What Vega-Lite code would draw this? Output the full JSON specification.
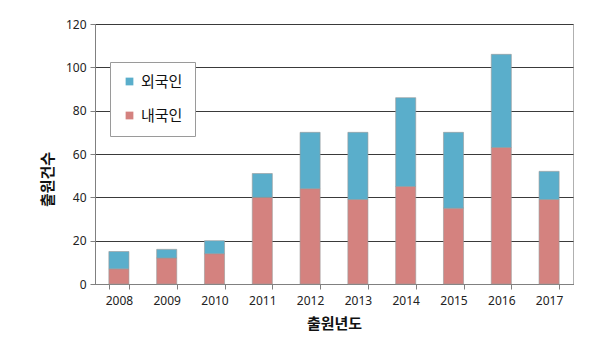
{
  "$schema": "https://vega.github.io/schema/vega-lite/v6.json",
  "autosize": {"type": "none"},
  "padding": {"left": 95, "top": 24, "right": 27, "bottom": 70},
  "width": 478,
  "height": 260,
  "background": "white",
  "data": {
    "values": [
      {"year": "2008", "group": "내국인", "count": 7},
      {"year": "2008", "group": "외국인", "count": 8},
      {"year": "2009", "group": "내국인", "count": 12},
      {"year": "2009", "group": "외국인", "count": 4},
      {"year": "2010", "group": "내국인", "count": 14},
      {"year": "2010", "group": "외국인", "count": 6},
      {"year": "2011", "group": "내국인", "count": 40},
      {"year": "2011", "group": "외국인", "count": 11},
      {"year": "2012", "group": "내국인", "count": 44},
      {"year": "2012", "group": "외국인", "count": 26},
      {"year": "2013", "group": "내국인", "count": 39},
      {"year": "2013", "group": "외국인", "count": 31},
      {"year": "2014", "group": "내국인", "count": 45},
      {"year": "2014", "group": "외국인", "count": 41},
      {"year": "2015", "group": "내국인", "count": 35},
      {"year": "2015", "group": "외국인", "count": 35},
      {"year": "2016", "group": "내국인", "count": 63},
      {"year": "2016", "group": "외국인", "count": 43},
      {"year": "2017", "group": "내국인", "count": 39},
      {"year": "2017", "group": "외국인", "count": 13}
    ]
  },
  "mark": {"type": "bar", "strokeWidth": 1, "stroke": "#9a9a9a", "strokeOpacity": 0.6},
  "encoding": {
    "x": {
      "field": "year",
      "type": "ordinal",
      "scale": {"paddingInner": 0.58, "paddingOuter": 0.29},
      "axis": {
        "title": "출원년도",
        "labelAngle": 0,
        "tickBand": "extent",
        "tickSize": 5,
        "tickColor": "#808080",
        "domainColor": "#808080",
        "labelPadding": 6,
        "labelFontSize": 12,
        "labelFont": "Noto Sans",
        "labelColor": "#222",
        "titleFont": "Noto Sans CJK KR",
        "titleFontSize": 15,
        "titleFontWeight": "bold",
        "titleColor": "#111",
        "titlePadding": 10
      }
    },
    "y": {
      "field": "count",
      "type": "quantitative",
      "stack": "zero",
      "scale": {"domain": [0, 120], "nice": false},
      "axis": {
        "title": "출원건수",
        "values": [0, 20, 40, 60, 80, 100, 120],
        "grid": true,
        "gridColor": "#3a3a3a",
        "gridWidth": 1,
        "tickSize": 5,
        "tickColor": "#808080",
        "domainColor": "#808080",
        "labelPadding": 4,
        "labelFontSize": 12,
        "labelFont": "Noto Sans",
        "labelColor": "#222",
        "titleFont": "Noto Sans CJK KR",
        "titleFontSize": 15,
        "titleFontWeight": "bold",
        "titleColor": "#111",
        "titlePadding": 10,
        "titleY": 155
      }
    },
    "color": {
      "field": "group",
      "type": "nominal",
      "scale": {"domain": ["외국인", "내국인"], "range": ["#5aaecb", "#d4827f"]},
      "legend": {
        "title": null,
        "orient": "none",
        "legendX": 15,
        "legendY": 38,
        "symbolType": "square",
        "symbolSize": 60,
        "symbolStrokeWidth": 0,
        "labelFont": "Noto Sans CJK KR",
        "labelFontSize": 15,
        "labelColor": "#111",
        "rowPadding": 18,
        "padding": 12,
        "strokeColor": "#9a9a9a",
        "fillColor": "white"
      }
    },
    "order": {"field": "group", "sort": "ascending"}
  },
  "config": {
    "view": {"stroke": "#b0b0b0"}
  }
}
